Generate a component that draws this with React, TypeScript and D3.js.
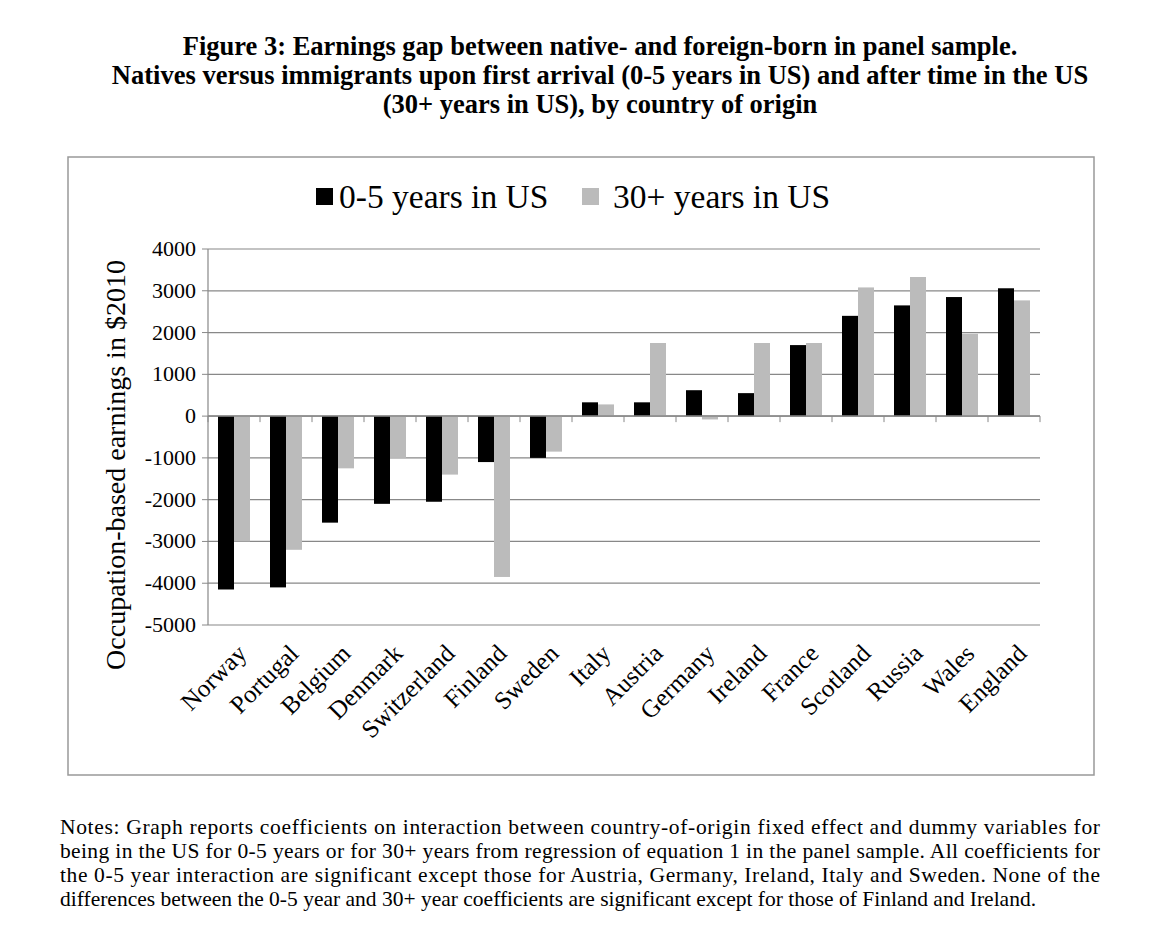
import * as d3 from 'd3';

const countries = ['Norway', 'Portugal', 'Belgium', 'Denmark', 'Switzerland', 'Finland', 'Sweden', 'Italy', 'Austria', 'Germany', 'Ireland', 'France', 'Scotland', 'Russia', 'Wales', 'England'];
const early = [-4150, -4100, -2550, -2100, -2050, -1100, -1000, 330, 330, 620, 550, 1700, 2400, 2650, 2850, 3060];
const late = [-3000, -3200, -1250, -1000, -1400, -3850, -850, 280, 1750, -80, 1750, 1750, 3080, 3330, 1970, 2770];
const yTicks = [4000, 3000, 2000, 1000, 0, -1000, -2000, -3000, -4000, -5000];
const titleLines = [
  'Figure 3: Earnings gap between native- and foreign-born in panel sample.',
  'Natives versus immigrants upon first arrival (0-5 years in US) and after time in the US',
  '(30+ years in US), by country of origin',
];
const notes = [
  'Notes: Graph reports coefficients on interaction between country-of-origin fixed effect and dummy variables for',
  'being in the US for 0-5 years or for 30+ years from regression of equation 1 in the panel sample. All coefficients for',
  'the 0-5 year interaction are significant except those for Austria, Germany, Ireland, Italy and Sweden. None of the',
  'differences between the 0-5 year and 30+ year coefficients are significant except for those of Finland and Ireland.',
];

export default function App() {
  const font = '"Liberation Serif", "Times New Roman", serif';
  const x = d3.scaleBand<string>().domain(countries).range([208, 1040]);
  const y = d3.scaleLinear().domain([-5000, 4000]).range([625, 249]);
  const bw = 16;
  const y0 = y(0);
  return (
    <svg width={1170} height={944} style={{ position: 'absolute', left: 0, top: 0, background: '#fff' }} fontFamily={font}>
      {titleLines.map((t, i) => (
        <text key={i} x={600} y={55 + i * 29} textAnchor="middle" fontSize={26.5} fontWeight="bold">{t}</text>
      ))}
      <rect x={68} y={157} width={1026} height={618} fill="none" stroke="#999" strokeWidth={1.5} />
      <rect x={316} y={188} width={17} height={17} fill="#000" />
      <text x={339} y={208} fontSize={33.5}>0-5 years in US</text>
      <rect x={582} y={188} width={17} height={17} fill="#bbb" />
      <text x={613} y={208} fontSize={33.5}>30+ years in US</text>
      {yTicks.map(t => (
        <g key={t}>
          <line x1={208} x2={1040} y1={y(t)} y2={y(t)} stroke="#888" strokeWidth={1.2} />
          <line x1={202} x2={208} y1={y(t)} y2={y(t)} stroke="#888" />
          <text x={196} y={y(t) + 7} textAnchor="end" fontSize={22}>{t}</text>
        </g>
      ))}
      <line x1={208} x2={208} y1={249} y2={625} stroke="#888" strokeWidth={1.2} />
      {countries.map((c, i) => {
        const bx = (x(c) as number) + x.bandwidth() / 2;
        return (
          <g key={c}>
            <rect x={bx - bw} width={bw} y={Math.min(y(early[i]), y0)} height={Math.abs(y(early[i]) - y0)} fill="#000" />
            <rect x={bx} width={bw} y={Math.min(y(late[i]), y0)} height={Math.abs(y(late[i]) - y0)} fill="#bbb" />
            <text transform={`translate(${bx + 14},${y(-5000) + 30}) rotate(-45)`} textAnchor="end" fontSize={25}>{c}</text>
          </g>
        );
      })}
      <line x1={208} x2={1040} y1={y0} y2={y0} stroke="#888" strokeWidth={1.5} />
      {countries.concat(['']).map((c, i) => {
        const tx = 208 + i * x.step();
        return <line key={i} x1={tx} x2={tx} y1={y0} y2={y0 + 6} stroke="#888" />;
      })}
      <text transform="translate(125,465) rotate(-90)" textAnchor="middle" fontSize={28}>Occupation-based  earnings  in $2010</text>
      {notes.map((t, i) => (
        <text key={i} x={60} y={834 + i * 24} fontSize={21.5}
          textLength={i < 3 ? 1040 : undefined} lengthAdjust="spacing">{t}</text>
      ))}
    </svg>
  );
}
